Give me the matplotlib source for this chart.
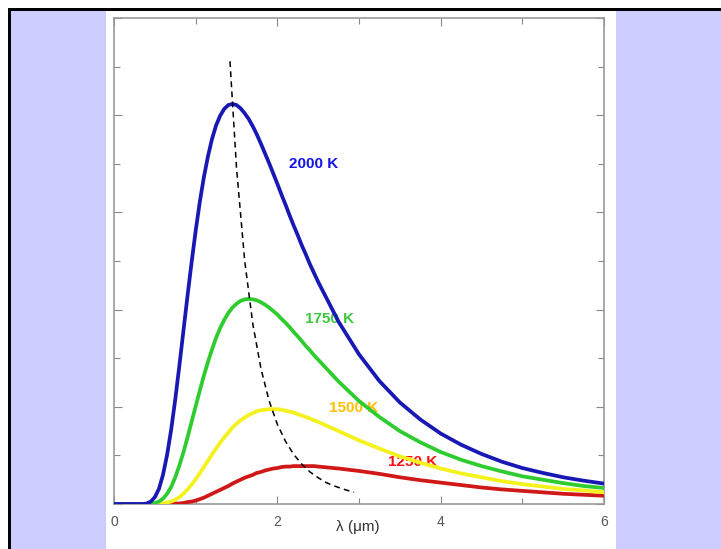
import matplotlib
matplotlib.use('Agg')
import matplotlib.pyplot as plt
from matplotlib.patches import Rectangle
from matplotlib.ticker import MultipleLocator

# wavelength in um
wavelength = [0, 0.3, 0.35, 0.4, 0.45, 0.5, 0.55, 0.6, 0.65, 0.7, 0.75, 0.8, 0.85, 0.9, 0.95,
              1.0, 1.05, 1.1, 1.15, 1.2, 1.25, 1.3, 1.35, 1.4, 1.45, 1.5, 1.55, 1.6, 1.65, 1.7,
              1.75, 1.8, 1.85, 1.9, 1.95, 2.0, 2.05, 2.1, 2.15, 2.2, 2.25, 2.3, 2.35, 2.4, 2.45,
              2.5, 2.75, 3.0, 3.25, 3.5, 3.75, 4.0, 4.25, 4.5, 4.75, 5.0, 5.25, 5.5, 5.75, 6.0]

t2000 = [0.00, 0.00, 0.00, 0.01, 0.05, 0.14, 0.31, 0.60, 1.01, 1.53, 2.15, 2.84, 3.56, 4.28, 4.97,
         5.62, 6.21, 6.72, 7.15, 7.51, 7.79, 7.99, 8.13, 8.21, 8.23, 8.21, 8.14, 8.04, 7.92, 7.77,
         7.60, 7.41, 7.21, 7.01, 6.80, 6.59, 6.37, 6.16, 5.94, 5.73, 5.53, 5.32, 5.13, 4.93, 4.75,
         4.57, 3.75, 3.08, 2.53, 2.09, 1.74, 1.45, 1.22, 1.03, 0.87, 0.74, 0.64, 0.55, 0.48, 0.42]
t1750 = [0.00, 0.00, 0.00, 0.00, 0.00, 0.02, 0.05, 0.11, 0.21, 0.35, 0.55, 0.79, 1.06, 1.37, 1.69,
         2.01, 2.33, 2.64, 2.92, 3.18, 3.42, 3.62, 3.79, 3.93, 4.04, 4.12, 4.18, 4.21, 4.22, 4.21,
         4.19, 4.15, 4.10, 4.04, 3.97, 3.90, 3.81, 3.73, 3.64, 3.54, 3.45, 3.35, 3.25, 3.16, 3.06,
         2.97, 2.52, 2.12, 1.79, 1.50, 1.27, 1.07, 0.91, 0.78, 0.67, 0.57, 0.50, 0.43, 0.37, 0.33]
t1500 = [0.00, 0.00, 0.00, 0.00, 0.00, 0.00, 0.00, 0.01, 0.03, 0.05, 0.09, 0.14, 0.21, 0.30, 0.40,
         0.51, 0.63, 0.76, 0.89, 1.02, 1.14, 1.26, 1.37, 1.47, 1.57, 1.65, 1.72, 1.78, 1.83, 1.87,
         1.91, 1.93, 1.94, 1.95, 1.95, 1.95, 1.94, 1.92, 1.90, 1.88, 1.85, 1.82, 1.79, 1.76, 1.72,
         1.69, 1.50, 1.31, 1.14, 0.98, 0.85, 0.73, 0.63, 0.55, 0.47, 0.41, 0.36, 0.31, 0.28, 0.24]
t1250 = [0.00, 0.00, 0.00, 0.00, 0.00, 0.00, 0.00, 0.00, 0.00, 0.00, 0.01, 0.01, 0.02, 0.04, 0.05,
         0.07, 0.10, 0.13, 0.17, 0.21, 0.25, 0.29, 0.33, 0.37, 0.42, 0.46, 0.50, 0.54, 0.57, 0.60,
         0.64, 0.66, 0.69, 0.71, 0.73, 0.74, 0.76, 0.77, 0.77, 0.78, 0.78, 0.78, 0.78, 0.78, 0.78,
         0.77, 0.73, 0.68, 0.62, 0.55, 0.49, 0.44, 0.39, 0.34, 0.30, 0.27, 0.24, 0.21, 0.19, 0.17]

# peak locus (dashed)
peak_x = [1.42, 1.5, 1.6, 1.7, 1.8, 1.9, 2.0, 2.1, 2.2, 2.3, 2.4, 2.5, 2.6, 2.7, 2.8, 2.94]
peak_y = [9.11, 6.92, 5.01, 3.70, 2.78, 2.12, 1.64, 1.29, 1.02, 0.82, 0.66, 0.54, 0.44, 0.37, 0.31, 0.24]

labels = ['2000 K', '1750 K', '1500 K', '1250 K']
label_x = [2.44, 2.64, 2.94, 3.66]
label_y = [7.0, 3.8, 1.98, 0.87]
line_colors = ['#1818b4', '#2ecc2e', '#f4f21c', '#d01818']
text_colors = ['#1414e6', '#3cc83c', '#ffbf00', '#ff1010']
xticks = [0, 2, 4, 6]

W, H = 721, 549
fig = plt.figure(figsize=(W / 100, H / 100), dpi=100)
fig.patch.set_facecolor('white')

def px_rect(x0, y0, x1, y1, color):
    # rectangle given in image pixels (origin top-left)
    fig.add_artist(Rectangle((x0 / W, 1 - y1 / H), (x1 - x0) / W, (y1 - y0) / H,
                             transform=fig.transFigure, facecolor=color,
                             edgecolor='none', zorder=0))

px_rect(8, 8, W, H, 'black')
px_rect(11, 11, W, H, '#ccccff')
px_rect(106, 11, 616, H, 'white')

ax = fig.add_axes([114 / W, 1 - 504 / H, (604 - 114) / W, (504 - 18) / H])
ax.set_facecolor('white')
ax.set_zorder(2)

curves = [t2000, t1750, t1500, t1250]
for i in range(4):
    ax.text(label_x[i], label_y[i], labels[i], color=text_colors[i], fontsize=11,
            fontweight='bold', family='Liberation Sans', ha='center', va='center', zorder=1)
for i in range(4):
    ax.plot(wavelength, curves[i], color=line_colors[i], linewidth=2.7,
            solid_capstyle='round', zorder=3 + (3 - i))
ax.plot(peak_x, peak_y, color='black', linewidth=1.1, dashes=(3.8, 2.8), zorder=8)

ax.set_xlim(0, 6)
ax.set_ylim(0, 10)
ax.xaxis.set_major_locator(MultipleLocator(2))
ax.xaxis.set_minor_locator(MultipleLocator(1))
ax.yaxis.set_major_locator(MultipleLocator(2))
ax.yaxis.set_minor_locator(MultipleLocator(1))
ax.set_xticks(xticks)
ax.set_xticklabels([str(t) for t in xticks])
ax.set_yticklabels([])
ax.tick_params(which='both', direction='in', top=True, right=True, color='#888888', width=0.8)
ax.tick_params(which='major', length=6, labelsize=10, labelcolor='#555555', pad=8)
ax.tick_params(which='minor', length=4)
for lab in ax.get_xticklabels():
    lab.set_family('Liberation Sans')
for s in ax.spines.values():
    s.set_color('#9a9a9a')
    s.set_linewidth(1.2)

ax.text(0.498, -0.048, 'λ (μm)', transform=ax.transAxes, fontsize=11, color='#333333',
        family='Liberation Sans', ha='center', va='center')

fig.savefig('out.png', dpi=100)
